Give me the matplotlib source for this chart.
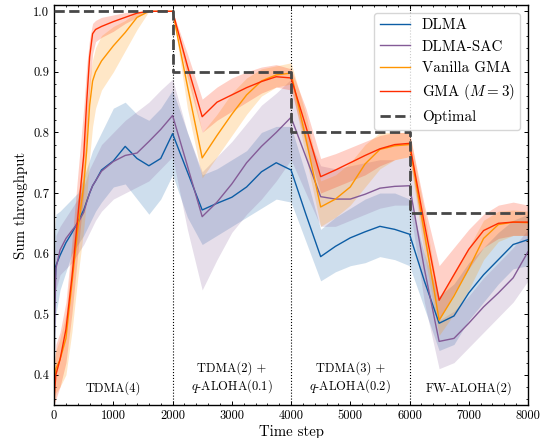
import numpy as np
import matplotlib
matplotlib.use('Agg')
import matplotlib.pyplot as plt

# time steps shared by all curves
t = [0, 30, 100, 200, 300, 400, 500, 550, 600, 650, 700, 800, 1000, 1200, 1400, 1600, 1800, 2000,
     2250, 2500, 2750, 3000, 3250, 3500, 3750, 4000,
     4250, 4500, 4750, 5000, 5250, 5500, 5750, 6000,
     6250, 6500, 6750, 7000, 7250, 7500, 7750, 8000]

# DLMA
dlma = [0.50, 0.58, 0.597, 0.618, 0.634, 0.652, 0.672, 0.686, 0.70, 0.712, 0.72, 0.738, 0.753, 0.777, 0.757, 0.745, 0.757, 0.798,
        0.735, 0.672, 0.683, 0.693, 0.71, 0.735, 0.75, 0.738,
        0.665, 0.595, 0.612, 0.626, 0.636, 0.645, 0.64, 0.632,
        0.555, 0.485, 0.497, 0.535, 0.565, 0.59, 0.615, 0.623]
dlma_lo = [0.42, 0.50, 0.54, 0.57, 0.60, 0.615, 0.63, 0.64, 0.65, 0.66, 0.67, 0.685, 0.71, 0.715, 0.69, 0.665, 0.69, 0.73,
           0.66, 0.615, 0.63, 0.645, 0.66, 0.675, 0.69, 0.685,
           0.62, 0.555, 0.57, 0.58, 0.585, 0.595, 0.59, 0.58,
           0.51, 0.44, 0.45, 0.49, 0.52, 0.55, 0.575, 0.58]
dlma_hi = [0.62, 0.665, 0.67, 0.68, 0.69, 0.70, 0.725, 0.74, 0.755, 0.77, 0.78, 0.80, 0.84, 0.85, 0.83, 0.82, 0.84, 0.87,
           0.80, 0.73, 0.74, 0.755, 0.77, 0.80, 0.81, 0.81,
           0.73, 0.64, 0.66, 0.675, 0.69, 0.70, 0.70, 0.69,
           0.60, 0.53, 0.55, 0.585, 0.61, 0.635, 0.655, 0.665]

# DLMA-SAC
sac = [0.45, 0.575, 0.606, 0.625, 0.638, 0.65, 0.668, 0.685, 0.70, 0.712, 0.72, 0.736, 0.752, 0.762, 0.766, 0.785, 0.805, 0.828,
       0.745, 0.661, 0.685, 0.715, 0.75, 0.777, 0.80, 0.825,
       0.76, 0.694, 0.69, 0.69, 0.698, 0.708, 0.711, 0.712,
       0.575, 0.455, 0.46, 0.485, 0.512, 0.535, 0.56, 0.603]
sac_lo = [0.38, 0.54, 0.565, 0.575, 0.585, 0.60, 0.615, 0.625, 0.635, 0.645, 0.655, 0.67, 0.69, 0.70, 0.71, 0.72, 0.74, 0.76,
          0.64, 0.54, 0.59, 0.635, 0.665, 0.69, 0.72, 0.755,
          0.70, 0.645, 0.645, 0.655, 0.665, 0.675, 0.68, 0.68,
          0.52, 0.41, 0.42, 0.445, 0.47, 0.495, 0.52, 0.555]
sac_hi = [0.56, 0.63, 0.645, 0.66, 0.675, 0.69, 0.71, 0.725, 0.74, 0.75, 0.76, 0.78, 0.80, 0.82, 0.835, 0.85, 0.87, 0.888,
          0.80, 0.735, 0.76, 0.785, 0.815, 0.845, 0.865, 0.888,
          0.80, 0.745, 0.74, 0.745, 0.75, 0.755, 0.755, 0.76,
          0.64, 0.49, 0.505, 0.53, 0.56, 0.585, 0.61, 0.64]

# Vanilla GMA
van = [0.38, 0.41, 0.425, 0.46, 0.55, 0.64, 0.712, 0.77, 0.845, 0.885, 0.90, 0.918, 0.943, 0.965, 0.99, 1.0, 1.0, 1.0,
       0.877, 0.758, 0.795, 0.83, 0.862, 0.885, 0.895, 0.898,
       0.79, 0.677, 0.69, 0.71, 0.748, 0.772, 0.778, 0.78,
       0.635, 0.49, 0.53, 0.575, 0.625, 0.648, 0.652, 0.651]
van_lo = [0.35, 0.37, 0.38, 0.40, 0.47, 0.56, 0.64, 0.69, 0.76, 0.81, 0.84, 0.87, 0.90, 0.935, 0.97, 1.0, 1.0, 1.0,
          0.84, 0.725, 0.76, 0.795, 0.83, 0.86, 0.875, 0.88,
          0.76, 0.645, 0.66, 0.68, 0.71, 0.74, 0.755, 0.76,
          0.60, 0.465, 0.50, 0.54, 0.59, 0.62, 0.63, 0.63]
van_hi = [0.42, 0.44, 0.46, 0.50, 0.60, 0.69, 0.77, 0.84, 0.89, 0.92, 0.94, 0.96, 0.975, 0.985, 1.0, 1.0, 1.0, 1.0,
          0.91, 0.80, 0.83, 0.865, 0.89, 0.905, 0.91, 0.915,
          0.83, 0.72, 0.73, 0.75, 0.78, 0.80, 0.80, 0.80,
          0.67, 0.525, 0.57, 0.61, 0.655, 0.67, 0.672, 0.67]

# GMA (M = 3)
gma = [0.36, 0.40, 0.425, 0.475, 0.56, 0.66, 0.762, 0.85, 0.925, 0.963, 0.97, 0.975, 0.983, 0.99, 0.997, 1.0, 1.0, 1.0,
       0.91, 0.826, 0.85, 0.862, 0.874, 0.884, 0.892, 0.89,
       0.81, 0.727, 0.738, 0.75, 0.762, 0.773, 0.78, 0.782,
       0.65, 0.523, 0.565, 0.607, 0.638, 0.65, 0.652, 0.652]
gma_lo = [0.35, 0.36, 0.38, 0.42, 0.50, 0.60, 0.70, 0.79, 0.87, 0.93, 0.95, 0.957, 0.967, 0.98, 0.99, 1.0, 1.0, 1.0,
          0.89, 0.80, 0.82, 0.835, 0.85, 0.865, 0.875, 0.87,
          0.78, 0.70, 0.71, 0.72, 0.73, 0.745, 0.755, 0.76,
          0.62, 0.49, 0.535, 0.575, 0.61, 0.625, 0.63, 0.63]
gma_hi = [0.40, 0.45, 0.47, 0.52, 0.62, 0.73, 0.84, 0.91, 0.955, 0.98, 0.985, 0.99, 0.994, 0.998, 1.0, 1.0, 1.0, 1.0,
          0.93, 0.855, 0.875, 0.89, 0.90, 0.908, 0.912, 0.905,
          0.84, 0.757, 0.765, 0.775, 0.785, 0.795, 0.80, 0.80,
          0.68, 0.58, 0.61, 0.64, 0.665, 0.68, 0.685, 0.68]

# optimal throughput per phase
phase_edges = [0, 2000, 4000, 6000, 8000]
optimal = [1.0, 0.9, 0.8, 0.6667]
phase_names = ['TDMA(4)', 'TDMA(2) +\n$q$-ALOHA(0.1)', 'TDMA(3) +\n$q$-ALOHA(0.2)', 'FW-ALOHA(2)']

plt.rcParams['font.family'] = 'cmr10'
plt.rcParams['mathtext.fontset'] = 'cm'
plt.rcParams['axes.unicode_minus'] = False
plt.rcParams['xtick.direction'] = 'in'
plt.rcParams['ytick.direction'] = 'in'
plt.rcParams['xtick.top'] = True
plt.rcParams['ytick.right'] = True
plt.rcParams['xtick.minor.visible'] = True
plt.rcParams['ytick.minor.visible'] = True

fig, ax = plt.subplots(figsize=(5.52, 4.38), dpi=100)
fig.subplots_adjust(left=0.098, right=0.9565, bottom=0.0753, top=0.988)

series = [
    (dlma, dlma_lo, dlma_hi, '#0C5DA5', 'DLMA'),
    (sac, sac_lo, sac_hi, '#845B97', 'DLMA-SAC'),
    (van, van_lo, van_hi, '#FF9500', 'Vanilla GMA'),
    (gma, gma_lo, gma_hi, '#FF2C00', 'GMA ($M=3$)'),
]
for y, lo, hi, c, name in series:
    a = 0.2 if c in ('#0C5DA5', '#845B97') else 0.22
    ax.fill_between(t, lo, hi, color=c, alpha=a, linewidth=0)
    ax.plot(t, y, color=c, linewidth=1.0, label=name)

for x in phase_edges[1:-1]:
    ax.axvline(x, color='black', linestyle=':', linewidth=0.8, zorder=1.5)

ax.plot(np.repeat(phase_edges, 2)[1:-1], np.repeat(optimal, 2), color='#474747',
        linestyle='--', linewidth=2, label='Optimal', zorder=3)

for i, name in enumerate(phase_names):
    xc = (phase_edges[i] + phase_edges[i + 1]) / 2
    ax.text(xc, 0.025, name, transform=ax.get_xaxis_transform(), ha='center', va='bottom',
            fontsize=9, multialignment='center')

ax.set_xlim(0, 8000)
ax.set_ylim(0.35, 1.01)
ax.set_xlabel('Time step', fontsize=10.7, labelpad=2)
ax.set_ylabel('Sum throughput', fontsize=10.7)
ax.tick_params(which='major', length=3.2, width=0.7, labelsize=9)
ax.tick_params(which='minor', length=1.7, width=0.6)
for s in ax.spines.values():
    s.set_linewidth(1.0)
ax.legend(loc='upper right', fontsize=10.8)

fig.savefig('out.png', dpi=100)
